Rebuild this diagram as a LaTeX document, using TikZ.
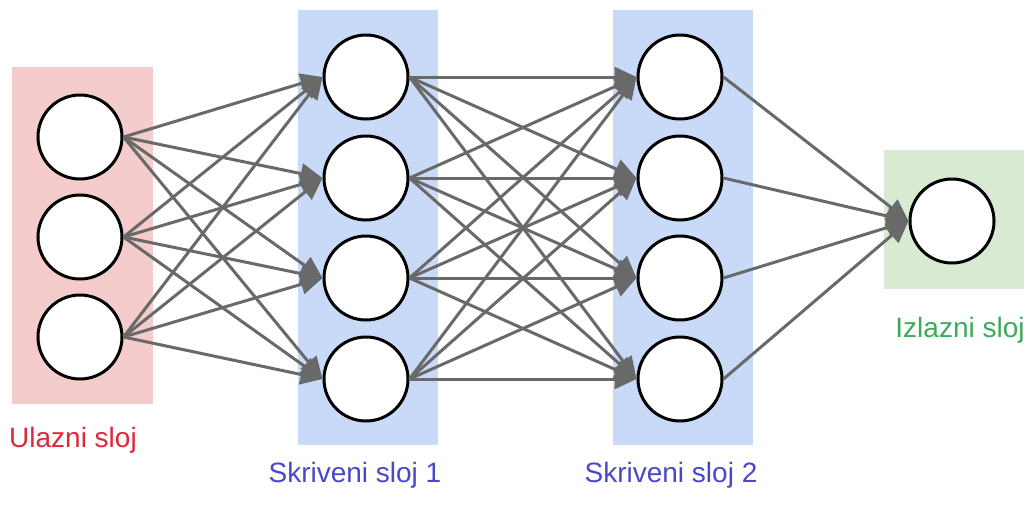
\documentclass[tikz,border=0pt]{standalone}
\usepackage{fontspec}
\setmainfont{Liberation Sans}
\usepackage{tikz}
\usetikzlibrary{arrows.meta}
\definecolor{inbox}{RGB}{244,204,204}
\definecolor{hidbox}{RGB}{201,218,248}
\definecolor{outbox}{RGB}{217,234,211}
\definecolor{intext}{RGB}{222,40,58}
\definecolor{hidtext}{RGB}{72,72,200}
\definecolor{outtext}{RGB}{60,170,90}
\definecolor{linkgray}{RGB}{105,105,105}
\tikzstyle{neuron}=[circle,draw=black,fill=white,line width=3pt,minimum size=84pt,inner sep=0pt]
\tikzstyle{link}=[-{Triangle[length=22pt,width=20pt]},draw=linkgray,fill=linkgray,line width=3pt]
\tikzstyle{layername}=[anchor=base,font=\fontsize{28}{32}\selectfont]

\begin{document}
\begin{tikzpicture}[x=1pt,y=-1pt]
      \useasboundingbox (0,0) rectangle (1030,520);
      \fill[inbox] (12,67) rectangle (153,404);
      \fill[hidbox] (298,10) rectangle (438,445);
      \fill[hidbox] (613,10) rectangle (753,445);
      \fill[outbox] (884,150) rectangle (1024,289);

      \node[neuron] (i1) at (80, 137) {};
      \node[neuron] (i2) at (80, 237) {};
      \node[neuron] (i3) at (80, 337) {};

      \node[neuron] (h1) at (366, 77) {};
      \node[neuron] (h2) at (366, 178) {};
      \node[neuron] (h3) at (366, 278) {};
      \node[neuron] (h4) at (366, 379) {};

      \node[neuron] (g1) at (680, 77) {};
      \node[neuron] (g2) at (680, 178) {};
      \node[neuron] (g3) at (680, 278) {};
      \node[neuron] (g4) at (680, 379) {};

      \node[neuron] (o1) at (952, 221) {};

      \draw[link] (i1.east) -- (h1.west);
      \draw[link] (i1.east) -- (h2.west);
      \draw[link] (i1.east) -- (h3.west);
      \draw[link] (i1.east) -- (h4.west);
      \draw[link] (i2.east) -- (h1.west);
      \draw[link] (i2.east) -- (h2.west);
      \draw[link] (i2.east) -- (h3.west);
      \draw[link] (i2.east) -- (h4.west);
      \draw[link] (i3.east) -- (h1.west);
      \draw[link] (i3.east) -- (h2.west);
      \draw[link] (i3.east) -- (h3.west);
      \draw[link] (i3.east) -- (h4.west);

      \draw[link] (h1.east) -- (g1.west);
      \draw[link] (h1.east) -- (g2.west);
      \draw[link] (h1.east) -- (g3.west);
      \draw[link] (h1.east) -- (g4.west);
      \draw[link] (h2.east) -- (g1.west);
      \draw[link] (h2.east) -- (g2.west);
      \draw[link] (h2.east) -- (g3.west);
      \draw[link] (h2.east) -- (g4.west);
      \draw[link] (h3.east) -- (g1.west);
      \draw[link] (h3.east) -- (g2.west);
      \draw[link] (h3.east) -- (g3.west);
      \draw[link] (h3.east) -- (g4.west);
      \draw[link] (h4.east) -- (g1.west);
      \draw[link] (h4.east) -- (g2.west);
      \draw[link] (h4.east) -- (g3.west);
      \draw[link] (h4.east) -- (g4.west);

      \draw[link] (g1.east) -- (o1.west);
      \draw[link] (g2.east) -- (o1.west);
      \draw[link] (g3.east) -- (o1.west);
      \draw[link] (g4.east) -- (o1.west);

      \node[layername,text=intext] (lin) at (73, 447) {Ulazni sloj};
      \node[layername,text=hidtext] (lh1) at (355, 482) {Skriveni sloj 1};
      \node[layername,text=hidtext] (lh2) at (671, 482) {Skriveni sloj 2};
      \node[layername,text=outtext] (lout) at (960, 337) {Izlazni sloj};
    \end{tikzpicture}
\end{document}
